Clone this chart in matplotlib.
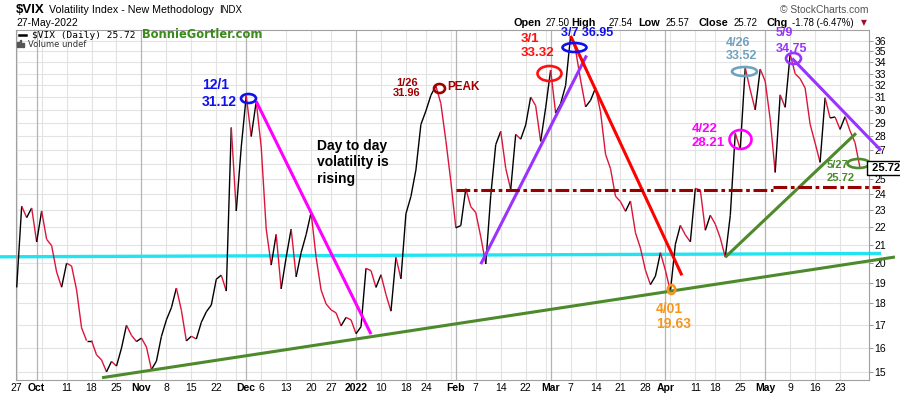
import numpy as np
import pandas as pd
import matplotlib
matplotlib.use("Agg")
import matplotlib.pyplot as plt
from matplotlib.collections import LineCollection
from matplotlib.path import Path
from matplotlib.transforms import Affine2D, blended_transform_factory
from matplotlib.lines import Line2D
from matplotlib.patches import Rectangle
import matplotlib.ticker as mticker

plt.rcParams['font.family'] = ['Liberation Sans', 'DejaVu Sans']

# ---------------- data ----------------
holidays = ['2021-11-25', '2021-12-24', '2022-01-17', '2022-02-21', '2022-04-15']
dates = pd.bdate_range('2021-09-27', '2022-05-27')
dates = dates[~dates.isin(pd.to_datetime(holidays))]

vix_sep = [18.76, 23.25, 22.56, 23.14]
vix_oct = [21.15, 22.96, 21.30, 20.95, 19.54, 18.77, 20.00, 19.85, 18.64, 16.86, 16.30,
           16.30, 15.70, 15.49, 15.01, 15.43, 15.24, 15.98, 16.98, 16.53, 16.26]
vix_nov = [16.41, 16.03, 15.10, 15.44, 16.48, 17.22, 17.78, 18.73, 17.66, 16.29, 16.49,
           16.37, 17.11, 17.59, 17.91, 19.17, 19.38, 18.58, 28.62, 22.96, 27.19]
vix_dec = [31.12, 27.95, 30.67, 27.18, 21.89, 19.90, 21.58, 18.69, 20.31, 21.89, 19.29,
           20.57, 21.57, 22.87, 20.31, 18.63, 17.96, 17.68, 17.54, 16.95, 17.33, 17.22]
vix_jan = [16.60, 16.91, 19.73, 19.61, 18.76, 19.40, 18.41, 17.62, 20.31, 19.19, 22.79,
           23.85, 25.59, 28.85, 29.90, 31.16, 31.96, 30.49, 27.66, 24.83]
vix_feb = [21.96, 22.09, 24.35, 23.22, 22.86, 21.44, 19.96, 23.91, 27.36, 28.33, 25.70,
           24.29, 28.11, 27.75, 28.81, 31.02, 30.32, 27.59, 30.15]
vix_mar = [33.32, 29.74, 30.48, 31.98, 36.45, 35.13, 32.45, 30.23, 30.75, 31.77, 29.83,
           26.67, 25.67, 23.87, 23.53, 22.94, 23.57, 21.67, 20.81, 19.63, 18.90, 19.33, 20.56]
vix_apr = [19.63, 18.57, 21.03, 22.10, 21.55, 21.16, 24.37, 24.26, 21.82, 22.70, 22.17,
           21.37, 20.32, 22.68, 28.21, 27.02, 33.52, 31.60, 29.99, 33.40]
vix_may = [32.34, 29.25, 25.42, 31.20, 30.19, 34.75, 32.99, 32.56, 31.77, 28.87, 27.47,
           26.10, 30.96, 29.35, 29.43, 28.48, 29.45, 28.37, 27.50, 25.72]
vix = np.array(vix_sep + vix_oct + vix_nov + vix_dec + vix_jan + vix_feb + vix_mar + vix_apr + vix_may)

y_ticks = list(range(15, 37))
y_hidden = [26]   # label covered by the last-value box

# trendlines: ((x0, v0), (x1, v1)) in trading-day position / VIX value
line_magenta = [(48.0, 30.67), (71.0, 16.58)]
line_purple1 = [(93.0, 19.95), (114.2, 34.62)]
line_red = [(111.0, 36.45), (133.3, 19.37)]
line_green_long = [(17.1, 14.78), (176.0, 20.33)]
line_green_short = [(142.0, 20.32), (168.2, 28.19)]
line_purple2 = [(155.4, 34.35), (173.2, 26.94)]
line_cyan = [(-3.35, 20.34), (173.2, 20.52)]
line_dd1 = [(88.1, 24.24), (151.6, 24.24)]
line_dd2 = [(151.6, 24.46), (173.0, 24.46)]

# circles: x position, value, width px, height px, colour
circles = [
    (46.35, 30.98, 15, 9, '#1010ee'),
    (84.6, 31.81, 11, 9, '#a00000'),
    (106.7, 33.05, 24, 15, '#ff1010'),
    (111.7, 35.40, 24, 9, '#1010ee'),
    (144.9, 27.76, 22, 19, '#ff00ff'),
    (145.7, 33.22, 25, 9, '#70a2bd'),
    (155.6, 34.35, 15, 11, '#9933ff'),
    (168.6, 26.03, 22, 9, '#4c8a2c'),
    (131.1, 18.66, 9, 11, '#f5961e'),
]

# ---------------- figure ----------------
W, H = 900, 396
fig = plt.figure(figsize=(9, 3.96), dpi=100, facecolor='white')
L, R, T, B = 16, 869, 30, 380
ax = fig.add_axes([L / W, 1 - B / H, (R - L) / W, (B - T) / H])
ax.set_facecolor('white')

def P(x, y):
    return (x / W, 1 - y / H)

ax.set_yscale('log')
ax.set_ylim(14.69, 37.03)
ax.set_xlim(-0.14, 170.8)

# grid
for v in y_ticks:
    ax.axhline(v, color='#e3e3e3', lw=0.8, zorder=0)

xpos = np.arange(len(dates))
tick_pos, tick_lab, tick_bold = [], [], []
month_starts = [i for i in range(1, len(dates)) if dates[i].month != dates[i - 1].month]
mondays = [i for i, d in enumerate(dates) if i == 0 or d.weekday() < dates[i - 1].weekday()]
for i in sorted(set(mondays) | set(month_starts)):
    d = dates[i]
    if i in month_starts:
        lab = '2022' if d.month == 1 else d.strftime('%b')
        tick_pos.append(i); tick_lab.append(lab); tick_bold.append(True)
        ax.axvline(i, color='#b4b4b4', lw=0.9, zorder=0)
    else:
        ax.axvline(i, color='#e3e3e3', lw=0.8, zorder=0)
        if any(0 < abs(i - m) <= 2 for m in month_starts):
            continue
        tick_pos.append(i); tick_lab.append(str(d.day)); tick_bold.append(False)

ax.set_xticks(tick_pos)
ax.set_xticklabels(tick_lab)
for t, b in zip(ax.get_xticklabels(), tick_bold):
    t.set_fontweight('bold' if b else 'normal')
ax.tick_params(axis='x', length=0, pad=2, labelsize=7.5, colors='black')

ax.yaxis.tick_right()
ax.yaxis.set_major_locator(mticker.FixedLocator(y_ticks))
ax.yaxis.set_minor_locator(mticker.NullLocator())
ax.yaxis.set_major_formatter(mticker.FuncFormatter(
    lambda v, p: '' if round(v) in y_hidden else f'{v:.0f}'))
ax.tick_params(axis='y', which='major', length=3, width=0.6, color='#888888', pad=1, labelsize=7.5)
for s in ax.spines.values():
    s.set_color('#a0a0a0')
    s.set_linewidth(0.8)

# price line, coloured by direction
pts = np.column_stack([xpos, vix])
segs = np.stack([pts[:-1], pts[1:]], axis=1)
cols = ['#dc143c' if vix[k + 1] < vix[k] else '#000000' for k in range(len(vix) - 1)]
lc = LineCollection(segs, colors=cols, linewidths=1.0, zorder=3)
ax.add_collection(lc)

# trendlines
def tl(pts_, color, lw=2.2, z=4):
    xs = [p[0] for p in pts_]
    ys = [p[1] for p in pts_]
    ax.plot(xs, ys, color=color, lw=lw, zorder=z, clip_on=False, solid_capstyle='butt')

tl(line_cyan, '#22e4f0', lw=2.4, z=2)
tl(line_green_long, '#4c8a2c')
tl(line_magenta, '#ff00ff')
tl(line_purple1, '#9933ff')
tl(line_red, '#ff0000')
tl(line_green_short, '#4c8a2c')
tl(line_purple2, '#9933ff')
for seg in (line_dd1, line_dd2):
    ax.plot([p[0] for p in seg], [p[1] for p in seg], color='#990000', lw=2.2,
            dashes=(4.5, 1.2, 1.2, 1.2), zorder=4, clip_on=False)

# circles
for (cx, cv, w, h, c) in circles:
    path = Path.unit_circle().transformed(Affine2D().scale(w, h))
    ax.plot([cx], [cv], marker=path, markersize=w * 0.72, markerfacecolor='none',
            markeredgecolor=c, markeredgewidth=1.9, zorder=6, clip_on=False)

# last value box
trans = blended_transform_factory(ax.transAxes, ax.transData)
ax.text(1.0, vix[-1], f' {vix[-1]:.2f}', transform=trans, ha='left', va='center',
        fontsize=8, fontweight='bold', zorder=10, clip_on=False,
        bbox=dict(boxstyle='square,pad=0.15', fc='white', ec='black', lw=1.0))

# annotation texts: (text, x px, baseline y px, colour, size, ha)
notes = [
    ('12/1', 202, 89, '#1010ee', 10, 'left'),
    ('31.12', 202, 106, '#1010ee', 10, 'left'),
    ('Day to day', 317, 150.5, '#000000', 10, 'left'),
    ('volatility is', 317, 166.5, '#000000', 10, 'left'),
    ('rising', 317, 182.5, '#000000', 10, 'left'),
    ('1/26', 407, 85.5, '#a00000', 8, 'center'),
    ('31.96', 407, 96.5, '#a00000', 8, 'center'),
    ('PEAK', 447, 90.5, '#a00000', 8.5, 'left'),
    ('3/1', 521, 42.5, '#ff1010', 9.5, 'left'),
    ('33.32', 521, 56, '#ff1010', 9.5, 'left'),
    ('3/7 36.95', 561, 36, '#1010ee', 9, 'left'),
    ('4/26', 726, 46.5, '#70a2bd', 9, 'left'),
    ('33.52', 726, 58.7, '#70a2bd', 9, 'left'),
    ('5/9', 776, 36, '#9933ff', 9, 'left'),
    ('34.75', 776, 52.5, '#9933ff', 9, 'left'),
    ('4/22', 692, 131.7, '#ff00ff', 9.5, 'left'),
    ('28.21', 692, 145.7, '#ff00ff', 9.5, 'left'),
    ('4/01', 656, 313.3, '#f5961e', 10, 'left'),
    ('19.63', 656, 328, '#f5961e', 10, 'left'),
    ('5/27', 827, 168, '#4c8a2c', 8, 'left'),
    ('25.72', 827, 181, '#4c8a2c', 8, 'left'),
]
for (s, x, y, c, fs, ha) in notes:
    fig.text(*P(x, y), s, color=c, fontsize=fs, fontweight='bold', ha=ha, va='baseline', zorder=8)

# ---------------- header ----------------
fig.text(*P(16, 12.7), '$VIX', fontsize=9.5, fontweight='bold', va='baseline')
fig.text(*P(49, 12.7), 'Volatility Index - New Methodology', fontsize=7.7, va='baseline')
fig.text(*P(219, 12.7), 'INDX', fontsize=6.9, va='baseline')
fig.text(*P(16, 26), '27-May-2022', fontsize=7.5, va='baseline')
fig.text(*P(868, 13.3), '\u00a9 StockCharts.com', fontsize=7.4, color='#555555', ha='right', va='baseline')

ohlc = [('Open', 514, True), ('27.50', 546, False), ('High', 571.7, True), ('27.54', 609, False),
        ('Low', 638.7, True), ('25.57', 666, False), ('Close', 698.3, True), ('25.72', 734, False),
        ('Chg', 766.7, True), ('-1.78 (-6.47%)', 791.7, False)]
for s, x, b in ohlc:
    fig.text(*P(x, 26), s, fontsize=7.8 if b else 6.9, fontweight='bold' if b else 'normal',
             va='baseline')
fig.text(*P(861, 25), '\u25bc', fontsize=5.5, color='#a0102a', va='baseline', family='DejaVu Sans')

fig.add_artist(Line2D([19 / W, 26 / W], [1 - 35 / H, 1 - 35 / H], color='black', lw=1.8,
                      transform=fig.transFigure))
fig.text(*P(32, 37.7), '$VIX (Daily) 25.72', fontsize=6.8, family='DejaVu Sans Mono', va='baseline')
fig.text(*P(141.7, 37.7), 'BonnieGortler.com', fontsize=8.3, family='DejaVu Sans',
         fontweight='bold', color='#3a8a1c', va='baseline')
for bx, bh in [(17, 5), (19.5, 7), (22, 4)]:
    fig.add_artist(Rectangle((bx / W, 1 - 47 / H), 1.6 / W, bh / H, color='#555555',
                             transform=fig.transFigure))
fig.text(*P(28, 47), 'Volume undef', fontsize=6, family='DejaVu Sans', color='#333333', va='baseline')

fig.savefig('out.png', dpi=100, facecolor='white')
